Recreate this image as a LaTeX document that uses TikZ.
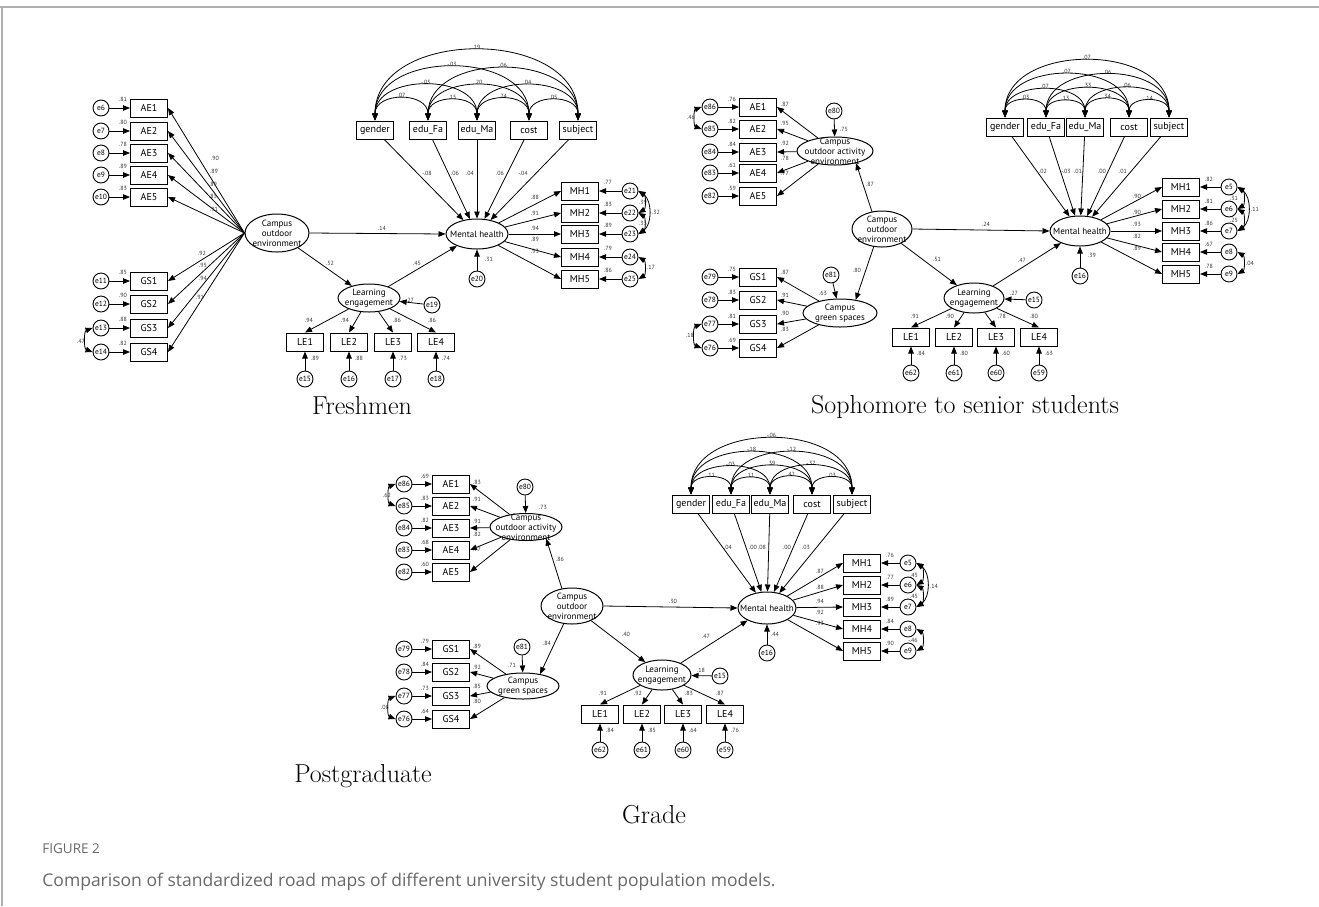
\documentclass[tikz,border=0pt]{standalone}
\usepackage{fontspec}
\usetikzlibrary{arrows.meta,shapes.geometric}

\newfontfamily\semfont{PT Sans}
\newfontfamily\capfont{Open Sans}

\definecolor{framegray}{RGB}{175,175,175}
\definecolor{capgray}{RGB}{105,105,105}

\tikzset{
  obs/.style={draw, line width=1pt, minimum width=37pt, minimum height=18pt, inner sep=1pt,
    font=\semfont\fontsize{10}{10}\selectfont},
  err/.style={draw, circle, line width=0.9pt, minimum size=16pt, inner sep=0pt,
    font=\semfont\fontsize{7.5}{8}\selectfont},
  lat/.style={draw, ellipse, line width=1pt, inner sep=0pt},
  lattext/.style={align=center, inner sep=0pt, font=\semfont\fontsize{9}{10}\selectfont},
  coef/.style={inner sep=0.5pt, text=black!80, font=\semfont\fontsize{6}{6}\selectfont},
  grouptitle/.style={anchor=base, font=\fontsize{26}{30}\selectfont},
}

\begin{document}
\begin{tikzpicture}[x=1pt, y=1pt, line width=0.8pt, >={Triangle[length=7pt,width=5.5pt]}]
\fill[white] (0,0) rectangle (1319,-906);
\useasboundingbox (0,0) rectangle (1319,-906);
\draw[framegray, line width=1.5pt] (0,-7) -- (1319,-7);
\draw[framegray, line width=1.5pt] (2,-7) -- (2,-906);

% ---------------- Freshmen ----------------
\node[lat, minimum width=64pt, minimum height=38pt, label={[lattext,name=FCOEt]center:{Campus\\outdoor\\environment}}] (FCOE) at (277,-233) {};
\node[lat, minimum width=62pt, minimum height=30pt, label={[lattext,name=FMHt]center:{Mental health}}] (FMH) at (477,-234) {};
\node[lat, minimum width=62pt, minimum height=28pt, label={[lattext,name=FLEt]center:{Learning\\engagement}}] (FLE) at (369,-298) {};
\node[err] (Fe19) at (432,-305) {e19};
\node[err] (Fe20) at (477,-279) {e20};

\foreach \n/\txt/\x in {gender/gender/375, eduFa/edu\_Fa/428, eduMa/edu\_Ma/477, cost/cost/529, subject/subject/578}
  \node[obs] (F\n) at (\x,-130) {\txt};
\foreach \p/\q/\val/\lo in {gender/eduFa/.07/1.4, eduFa/eduMa/.15/1.4, eduMa/cost/.24/1.4, cost/subject/.05/1.4,
    gender/eduMa/-.05/1.18, eduFa/cost/.20/1.18, eduMa/subject/.04/1.18,
    gender/cost/-.03/1.18, eduFa/subject/.06/1.18, gender/subject/.19/1.18}
  \draw[<->] (F\p.north) to[out=90,in=90,looseness=\lo] node[coef,above] (Fk\p\q) {\val} (F\q.north);
\foreach \n/\val/\lx in {gender/-.08/427, eduFa/.06/455, eduMa/.04/470, cost/.06/500, subject/-.04/523}{
  \draw[->] (F\n) -- (FMH);
  \node[coef] (Fp\n) at (\lx,-173) {\val};
}

\foreach \i/\e/\y/\rsq/\val/\lx/\ly in {1/6/108/.81/.90/215/158, 2/7/131/.80/.89/214/171, 3/8/153/.78/.89/213/184,
    4/9/175/.89/.83/213/196, 5/10/197/.83/.91/214/209}{
  \node[obs] (FAE\i) at (149,-\y) {AE\i};
  \node[err] (Fe\e) at (101,-\y) {e\e};
  \draw[->] (Fe\e) -- (FAE\i);
  \draw[->] (FCOE.west) -- (FAE\i.east);
  \node[coef] (FrA\i) at ([xshift=-7pt,yshift=-1pt]FAE\i.north west) {\rsq};
  \node[coef] (FlA\i) at (\lx,-\ly) {\val};
}
\foreach \i/\e/\y/\rsq/\val/\lx/\ly in {1/11/281/.85/.92/202/253, 2/12/304/.90/.95/203/265,
    3/13/328/.88/.94/203/278, 4/14/352/.82/.91/200/297}{
  \node[obs] (FGS\i) at (149,-\y) {GS\i};
  \node[err] (Fe\e) at (101,-\y) {e\e};
  \draw[->] (Fe\e) -- (FGS\i);
  \draw[->] (FCOE.west) -- (FGS\i.east);
  \node[coef] (FrG\i) at ([xshift=-7pt,yshift=-1pt]FGS\i.north west) {\rsq};
  \node[coef] (FlG\i) at (\lx,-\ly) {\val};
}
\draw[<->] (Fe13.west) to[bend right=70] (Fe14.west);
\node[coef] (Fc1) at (81,-341) {.47};

\foreach \i/\e/\x/\val/\lx/\rsq in {1/15/305/.94/309/.89, 2/16/349/.94/345/.88, 3/17/393/.86/397/.73, 4/18/436/.86/432/.74}{
  \node[obs] (FLE\i) at (\x,-342) {LE\i};
  \node[err] (Fe\e) at (\x,-379) {e\e};
  \draw[->] (Fe\e) -- (FLE\i);
  \draw[->] (FLE) -- (FLE\i.north);
  \node[coef] (FlL\i) at (\lx,-320) {\val};
  \node[coef] (FrL\i) at (\x+10,-358) {\rsq};
}

\foreach \i/\e/\y/\val/\ly/\rsq in {1/21/191/.88/197/.77, 2/22/213/.91/213/.83, 3/23/234/.94/228/.89,
    4/24/257/.89/239/.79, 5/25/279/.93/251/.86}{
  \node[obs] (FMH\i) at (580,-\y) {MH\i};
  \node[err] (Fe\e) at (630,-\y) {e\e};
  \draw[->] (Fe\e) -- (FMH\i);
  \draw[->] (FMH) -- (FMH\i.west);
  \node[coef] (FlM\i) at (535,-\ly) {\val};
  \node[coef] (FrM\i) at ([xshift=9pt,yshift=-1pt]FMH\i.north east) {\rsq};
}
\draw[<->] (Fe21.east) to[bend left=60] (Fe22.east);
\draw[<->] (Fe22.east) to[bend left=60] (Fe23.east);
\draw[<->] (Fe21.east) to[bend left=55] (Fe23.east);
\draw[<->] (Fe24.east) to[bend left=60] (Fe25.east);
\node[coef] (Fc2) at (643,-202) {.39};
\node[coef] (Fc3) at (643,-223) {.33};
\node[coef] (Fc4) at (656,-212) {.32};
\node[coef] (Fc5) at (651,-267) {.17};

\draw[->] (FCOE.east) -- (FMH.west);
\draw[->] (FCOE) -- (FLE);
\draw[->] (FLE) -- (FMH);
\draw[->] (Fe19) -- (FLE);
\draw[->] (Fe20) -- (FMH);
\node[coef] (Fs1) at (382,-228) {.14};
\node[coef] (Fs2) at (330,-263) {.52};
\node[coef] (Fs3) at (417,-263) {.45};
\node[coef] (Fs4) at (410,-300) {.27};
\node[coef] (Fs5) at (489,-259) {.31};

\node[grouptitle] (tF) at (362,-414) {Freshmen};

% ---------------- Sophomore to senior ----------------
\node[lat, minimum width=60pt, minimum height=36pt, label={[lattext,name=SCOEt]center:{Campus\\outdoor\\environment}}] (SCOE) at (882,-229) {};
\node[lat, minimum width=76pt, minimum height=28pt, label={[lattext,name=SCoAEt]center:{Campus\\outdoor activity\\environment}}] (SCoAE) at (835,-151) {};
\node[lat, minimum width=74pt, minimum height=28pt, label={[lattext,name=SCGSt]center:{Campus\\green spaces}}] (SCGS) at (840,-313) {};
\node[lat, minimum width=60pt, minimum height=30pt, label={[lattext,name=SMHt]center:{Mental health}}] (SMH) at (1080,-231) {};
\node[lat, minimum width=60pt, minimum height=30pt, label={[lattext,name=SLEt]center:{Learning\\engagement}}] (SLE) at (974,-298) {};
\node[err] (Se80) at (834,-111) {e80};
\node[err] (Se81) at (831,-275) {e81};
\node[err] (Se15) at (1034,-300) {e15};
\node[err] (Se16) at (1080,-276) {e16};

\foreach \n/\txt/\x in {gender/gender/1005, eduFa/edu\_Fa/1046, eduMa/edu\_Ma/1085, cost/cost/1129, subject/subject/1169}
  \node[obs] (S\n) at (\x,-127) {\txt};
\foreach \p/\q/\val/\lo in {gender/eduFa/.03/1.4, eduFa/eduMa/.13/1.4, eduMa/cost/.34/1.4, cost/subject/.14/1.4,
    gender/eduMa/.07/1.18, eduFa/cost/.33/1.18, eduMa/subject/.06/1.18,
    gender/cost/.07/1.18, eduFa/subject/.06/1.18, gender/subject/.07/1.18}
  \draw[<->] (S\p.north) to[out=90,in=90,looseness=\lo] node[coef,above] (Sk\p\q) {\val} (S\q.north);
\foreach \n/\val/\lx in {gender/.02/1043, eduFa/-.03/1066, eduMa/.01/1078, cost/.00/1102, subject/.01/1123}{
  \draw[->] (S\n) -- (SMH);
  \node[coef] (Sp\n) at (\lx,-171) {\val};
}

\foreach \i/\e/\y/\rsq/\val/\ly in {1/86/107/.76/.87/104, 2/85/129/.82/.95/123, 3/84/152/.84/.92/143,
    4/83/173/.61/.78/158, 5/82/196/.59/.77/173}{
  \node[obs] (SAE\i) at (758,-\y) {AE\i};
  \node[err] (Se\e) at (710,-\y) {e\e};
  \draw[->] (Se\e) -- (SAE\i);
  \draw[->] (SCoAE) -- (SAE\i.east);
  \node[coef] (SrA\i) at ([xshift=-7pt,yshift=-2pt]SAE\i.north west) {\rsq};
  \node[coef] (SlA\i) at (785,-\ly) {\val};
}
\foreach \i/\e/\y/\rsq/\val/\ly in {1/79/277/.75/.87/272, 2/78/300/.83/.91/295, 3/77/324/.81/.90/313, 4/76/348/.69/.83/329}{
  \node[obs] (SGS\i) at (758,-\y) {GS\i};
  \node[err] (Se\e) at (710,-\y) {e\e};
  \draw[->] (Se\e) -- (SGS\i);
  \draw[->] (SCGS) -- (SGS\i.east);
  \node[coef] (SrG\i) at ([xshift=-7pt,yshift=-2pt]SGS\i.north west) {\rsq};
  \node[coef] (SlG\i) at (785,-\ly) {\val};
}
\draw[<->] (Se86.west) to[bend right=70] (Se85.west);
\draw[<->] (Se77.west) to[bend right=70] (Se76.west);
\node[coef] (Sc1) at (691,-117) {.46};
\node[coef] (Sc2) at (690,-335) {.18};

\foreach \i/\e/\x/\val/\lx/\rsq in {1/62/911/.91/915/.84, 2/61/954/.90/950/.80, 3/60/996/.78/1002/.60, 4/59/1039/.80/1034/.63}{
  \node[obs] (SLE\i) at (\x,-337) {LE\i};
  \node[err] (Se\e) at (\x,-373) {e\e};
  \draw[->] (Se\e) -- (SLE\i);
  \draw[->] (SLE) -- (SLE\i.north);
  \node[coef] (SlL\i) at (\lx,-316) {\val};
  \node[coef] (SrL\i) at (\x+10,-353) {\rsq};
}

\foreach \i/\e/\y/\val/\ly/\rsq in {1/5/187/.90/196/.82, 2/6/209/.90/212/.81, 3/7/231/.93/224/.86,
    4/8/252/.82/236/.67, 5/9/274/.89/248/.78}{
  \node[obs] (SMH\i) at (1181,-\y) {MH\i};
  \node[err] (Se\e) at (1229,-\y) {e\e};
  \draw[->] (Se\e) -- (SMH\i);
  \draw[->] (SMH) -- (SMH\i.west);
  \node[coef] (SlM\i) at (1137,-\ly) {\val};
  \node[coef] (SrM\i) at ([xshift=9pt,yshift=-2pt]SMH\i.north east) {\rsq};
}
\draw[<->] (Se5.east) to[bend left=60] (Se6.east);
\draw[<->] (Se6.east) to[bend left=60] (Se7.east);
\draw[<->] (Se5.east) to[bend left=55] (Se7.east);
\draw[<->] (Se8.east) to[bend left=60] (Se9.east);
\node[coef] (Sc3) at (1234,-198) {.31};
\node[coef] (Sc4) at (1234,-220) {.25};
\node[coef] (Sc5) at (1255,-209) {.11};
\node[coef] (Sc6) at (1250,-263) {.04};

\draw[->] (SCOE.120) -- (SCoAE.-30);
\draw[->] (SCOE.245) -- (SCGS.40);
\draw[->] (Se80) -- (SCoAE);
\draw[->] (Se81) -- (SCGS);
\draw[->] (SCOE.east) -- (SMH.west);
\draw[->] (SCOE) -- (SLE);
\draw[->] (SLE) -- (SMH);
\draw[->] (Se15) -- (SLE);
\draw[->] (Se16) -- (SMH);
\node[coef] (Ss1) at (844,-129) {.75};
\node[coef] (Ss2) at (870,-184) {.87};
\node[coef] (Ss3) at (823,-293) {.63};
\node[coef] (Ss4) at (857,-270) {.80};
\node[coef] (Ss5) at (986,-224) {.24};
\node[coef] (Ss6) at (937,-259) {.51};
\node[coef] (Ss7) at (1022,-260) {.47};
\node[coef] (Ss8) at (1014,-293) {.27};
\node[coef] (Ss9) at (1092,-255) {.39};

\node[grouptitle] (tS) at (965,-413) {Sophomore to senior students};

% ---------------- Postgraduate ----------------
\node[lat, minimum width=62pt, minimum height=36pt, label={[lattext,name=PCOEt]center:{Campus\\outdoor\\environment}}] (PCOE) at (572,-606) {};
\node[lat, minimum width=72pt, minimum height=27pt, label={[lattext,name=PCoAEt]center:{Campus\\outdoor activity\\environment}}] (PCoAE) at (526,-527) {};
\node[lat, minimum width=72pt, minimum height=26pt, label={[lattext,name=PCGSt]center:{Campus\\green spaces}}] (PCGS) at (523,-686) {};
\node[lat, minimum width=58pt, minimum height=32pt, label={[lattext,name=PMHt]center:{Mental health}}] (PMH) at (767,-608) {};
\node[lat, minimum width=58pt, minimum height=30pt, label={[lattext,name=PLEt]center:{Learning\\engagement}}] (PLE) at (662,-675) {};
\node[err] (Pe80) at (525,-487) {e80};
\node[err] (Pe81) at (522,-647) {e81};
\node[err] (Pe15) at (720,-676) {e15};
\node[err] (Pe16) at (767,-653) {e16};

\foreach \n/\txt/\x in {gender/gender/691, eduFa/edu\_Fa/731, eduMa/edu\_Ma/770, cost/cost/812, subject/subject/852}
  \node[obs] (P\n) at (\x,-504) {\txt};
\foreach \p/\q/\val/\lo in {gender/eduFa/.11/1.4, eduFa/eduMa/.11/1.4, eduMa/cost/.42/1.4, cost/subject/.03/1.4,
    gender/eduMa/-.03/1.18, eduFa/cost/.39/1.18, eduMa/subject/-.37/1.18,
    gender/cost/-.18/1.18, eduFa/subject/-.12/1.18, gender/subject/-.06/1.18}
  \draw[<->] (P\p.north) to[out=90,in=90,looseness=\lo] node[coef,above] (Pk\p\q) {\val} (P\q.north);
\foreach \n/\val/\lx in {gender/.04/728, eduFa/.00/753, eduMa/.08/762, cost/.00/787, subject/.03/806}{
  \draw[->] (P\n) -- (PMH);
  \node[coef] (Pp\n) at (\lx,-547) {\val};
}

\foreach \i/\e/\y/\rsq/\val/\ly in {1/86/484/.69/.83/482, 2/85/506/.83/.91/499, 3/84/528/.82/.91/521,
    4/83/550/.68/.82/534, 5/82/572/.60/.77/549}{
  \node[obs] (PAE\i) at (451,-\y) {AE\i};
  \node[err] (Pe\e) at (404,-\y) {e\e};
  \draw[->] (Pe\e) -- (PAE\i);
  \draw[->] (PCoAE) -- (PAE\i.east);
  \node[coef] (PrA\i) at ([xshift=-7pt,yshift=-2pt]PAE\i.north west) {\rsq};
  \node[coef] (PlA\i) at (477,-\ly) {\val};
}
\foreach \i/\e/\y/\rsq/\val/\ly in {1/79/649/.79/.89/646, 2/78/672/.84/.92/667, 3/77/696/.73/.85/686, 4/76/719/.64/.80/701}{
  \node[obs] (PGS\i) at (451,-\y) {GS\i};
  \node[err] (Pe\e) at (404,-\y) {e\e};
  \draw[->] (Pe\e) -- (PGS\i);
  \draw[->] (PCGS) -- (PGS\i.east);
  \node[coef] (PrG\i) at ([xshift=-7pt,yshift=-2pt]PGS\i.north west) {\rsq};
  \node[coef] (PlG\i) at (477,-\ly) {\val};
}
\draw[<->] (Pe86.west) to[bend right=70] (Pe85.west);
\draw[<->] (Pe77.west) to[bend right=70] (Pe76.west);
\node[coef] (Pc1) at (387,-495) {.62};
\node[coef] (Pc2) at (385,-707) {.08};

\foreach \i/\e/\x/\val/\lx/\rsq in {1/62/600/.91/603/.84, 2/61/642/.92/638/.85, 3/60/683/.83/689/.64, 4/59/725/.87/720/.76}{
  \node[obs] (PLE\i) at (\x,-714) {LE\i};
  \node[err] (Pe\e) at (\x,-750) {e\e};
  \draw[->] (Pe\e) -- (PLE\i);
  \draw[->] (PLE) -- (PLE\i.north);
  \node[coef] (PlL\i) at (\lx,-693) {\val};
  \node[coef] (PrL\i) at (\x+10,-730) {\rsq};
}

\foreach \i/\e/\y/\val/\ly/\rsq in {1/5/563/.87/571/.76, 2/6/585/.88/587/.77, 3/7/607/.94/601/.89,
    4/8/629/.92/612/.84, 5/9/651/.93/623/.90}{
  \node[obs] (PMH\i) at (862,-\y) {MH\i};
  \node[err] (Pe\e) at (908,-\y) {e\e};
  \draw[->] (Pe\e) -- (PMH\i);
  \draw[->] (PMH) -- (PMH\i.west);
  \node[coef] (PlM\i) at (820,-\ly) {\val};
  \node[coef] (PrM\i) at ([xshift=9pt,yshift=-2pt]PMH\i.north east) {\rsq};
}
\draw[<->] (Pe5.east) to[bend left=60] (Pe6.east);
\draw[<->] (Pe6.east) to[bend left=60] (Pe7.east);
\draw[<->] (Pe5.east) to[bend left=55] (Pe7.east);
\draw[<->] (Pe8.east) to[bend left=60] (Pe9.east);
\node[coef] (Pc3) at (914,-575) {.45};
\node[coef] (Pc4) at (914,-596) {.45};
\node[coef] (Pc5) at (934,-586) {.14};
\node[coef] (Pc6) at (913,-640) {-.46};

\draw[->] (PCOE.120) -- (PCoAE.-30);
\draw[->] (PCOE.245) -- (PCGS.35);
\draw[->] (Pe80) -- (PCoAE);
\draw[->] (Pe81) -- (PCGS);
\draw[->] (PCOE.east) -- (PMH.west);
\draw[->] (PCOE) -- (PLE);
\draw[->] (PLE) -- (PMH);
\draw[->] (Pe15) -- (PLE);
\draw[->] (Pe16) -- (PMH);
\node[coef] (Ps1) at (543,-507) {.73};
\node[coef] (Ps2) at (560,-559) {.86};
\node[coef] (Ps3) at (512,-665) {.71};
\node[coef] (Ps4) at (547,-643) {.84};
\node[coef] (Ps5) at (673,-601) {.30};
\node[coef] (Ps6) at (626,-634) {.40};
\node[coef] (Ps7) at (706,-636) {.47};
\node[coef] (Ps8) at (701,-670) {.18};
\node[coef] (Ps9) at (775,-634) {.44};

\node[grouptitle] (tP) at (363,-782) {Postgraduate};
\node[grouptitle] (tG) at (654,-823) {Grade};

% ---------------- caption ----------------
\node[anchor=base west, inner sep=0pt, text=capgray, font=\capfont\fontsize{13.5}{15}\selectfont] (figno) at (42,-853) {FIGURE 2};
\node[anchor=base west, inner sep=0pt, text=capgray, font=\capfont\fontsize{17.5}{20}\selectfont] (figcap) at (42,-886)
  {Comparison of standardized road maps of different university student population models.};
\end{tikzpicture}
\end{document}
